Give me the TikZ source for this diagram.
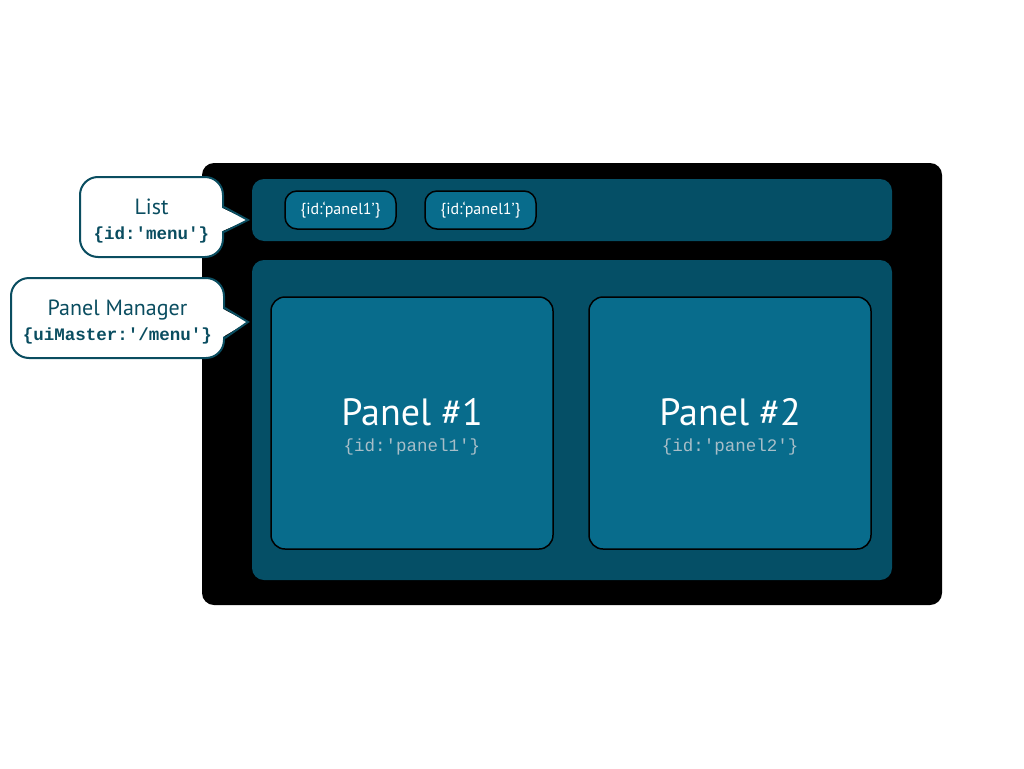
\documentclass[tikz,border=0pt]{standalone}
\usepackage{fontspec}
\setmainfont{PT Sans}
\setmonofont{Liberation Mono}
\usetikzlibrary{calc}
\definecolor{deepteal}{RGB}{5,79,102}
\definecolor{panelteal}{RGB}{8,108,140}
\definecolor{calloutedge}{RGB}{10,77,96}
\definecolor{idgrey}{RGB}{168,190,200}
\tikzset{
  area/.style={fill=deepteal, rounded corners=12},
  pill/.style={draw=black, line width=1.5, fill=panelteal, rounded corners=12,
    minimum width=111, minimum height=38, inner sep=0, text=white,
    font=\fontsize{16}{18}\selectfont},
  panelbox/.style={draw=black, line width=1.5, fill=panelteal, rounded corners=14,
    minimum width=282, minimum height=252},
  paneltext/.style={text=white, align=center, inner sep=0, font=\fontsize{38}{46}\selectfont},
  callout/.style={draw=calloutedge, line width=2, fill=white, rounded corners=18},
  notetext/.style={text=calloutedge, align=center, inner sep=0, font=\fontsize{22}{26}\selectfont},
  pointer/.style={draw=calloutedge, line width=2, line join=miter},
}
\newcommand{\paneltitle}[2]{Panel \##1\\[-20pt]
  {\ttfamily\color{idgrey}\fontsize{17.5}{18}\selectfont \{id:\textquotesingle panel#2\textquotesingle\}}}
\newcommand{\notecode}[1]{{\ttfamily\bfseries\fontsize{17.5}{18}\selectfont #1}}
\begin{document}
\begin{tikzpicture}[x=1pt,y=1pt,yscale=-1,xscale=1]
  \useasboundingbox (0,0) rectangle (1024,768);
  % outer frame
  \fill[black, rounded corners=12] (202,163) rectangle (942,605);
  % list bar and manager area
  \fill[area] (252,179) rectangle (892,241);
  \fill[area] (252,260) rectangle (892,580);
  % list items
  \node[pill] (itemA) at (340.5,210) {\{id:‘panel1’\}};
  \node[pill] (itemB) at (480.5,210) {\{id:‘panel1’\}};
  % panels
  \node[panelbox] (panelA) at (412,423) {};
  \node[panelbox] (panelB) at (730,423) {};
  \node[paneltext] (titleA) at ($(panelA.center)+(0,4)$) {\paneltitle{1}{1}};
  \node[paneltext] (titleB) at ($(panelB.center)+(0,4)$) {\paneltitle{2}{2}};
  % callout for the list
  \node[callout, minimum width=143, minimum height=80] (listnote) at (151.5,217) {};
  \coordinate (listtip) at (248,220);
  \fill[white] ($(listnote.east)+(-4,-10)$) -- (listtip) -- ($(listnote.east)+(-4,15)$) -- cycle;
  \draw[pointer] ($(listnote.east)+(0,-10)$) -- (listtip) -- ($(listnote.east)+(0,15)$);
  \node[notetext] (listtext) at ($(listnote.center)+(0,4)$)
    {List\\[-1pt]\notecode{\{id:\textquotesingle menu\textquotesingle\}}};
  % callout for the panel manager
  \node[callout, minimum width=213, minimum height=80] (managernote) at (117.5,318) {};
  \coordinate (managertip) at (248,322);
  \fill[white] ($(managernote.east)+(-4,-10)$) -- (managertip) -- ($(managernote.east)+(-4,20)$) -- cycle;
  \draw[pointer] ($(managernote.east)+(0,-10)$) -- (managertip) -- ($(managernote.east)+(0,20)$);
  \node[notetext] (managertext) at ($(managernote.center)+(0,4)$)
    {Panel Manager\\[-1pt]\notecode{\{uiMaster:\textquotesingle/menu\textquotesingle\}}};
\end{tikzpicture}
\end{document}
